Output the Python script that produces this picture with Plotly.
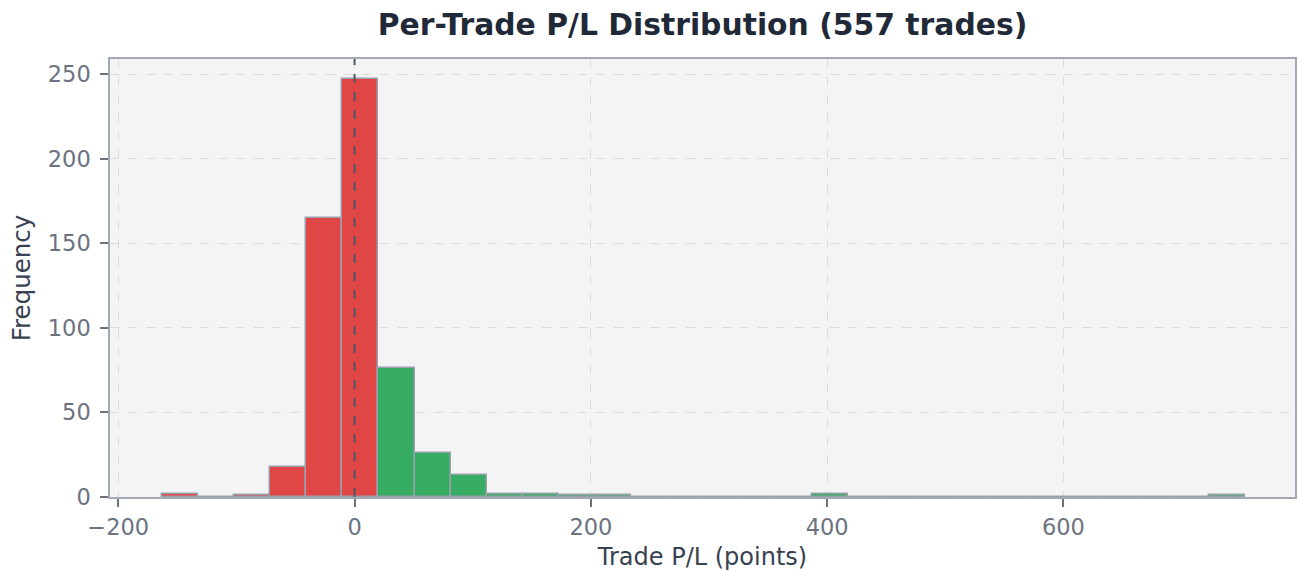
import plotly.graph_objects as go

# Histogram data (30 equal-width bins between min and max trade P/L)
pl_min = -163.2
pl_max = 753.7
n_bins = 30
counts = [2, 0, 1, 18, 165, 247, 76, 26, 13, 2,
          2, 1, 1, 0, 0, 0, 0, 0, 2, 0,
          0, 0, 0, 0, 0, 0, 0, 0, 0, 1]
n_trades = 557
x_ticks = [-200, 0, 200, 400, 600]
x_tick_labels = ["\u2212200", "0", "200", "400", "600"]
y_ticks = [0, 50, 100, 150, 200, 250]

bin_w = (pl_max - pl_min) / n_bins
lefts = [pl_min + i * bin_w for i in range(n_bins)]
centers = [l + bin_w / 2 for l in lefts]
colors = ["rgb(224,70,70)" if l < 0 else "rgb(54,173,98)" for l in lefts]

font_family = "DejaVu Sans"

fig = go.Figure()
fig.add_trace(go.Bar(
    x=centers, y=counts, width=bin_w,
    marker=dict(color=colors, line=dict(color="#9aa0ac", width=1.5)),
    hoverinfo="x+y", showlegend=False,
))

fig.add_vline(x=0, line=dict(color="#4f5560", width=2, dash="dash"))

fig.update_layout(
    width=1299, height=571,
    margin=dict(l=110, r=2, t=59, b=74),
    paper_bgcolor="white",
    plot_bgcolor="#f4f4f4",
    bargap=0,
    font=dict(family=font_family),
    title=dict(
        text=f"Per-Trade P/L Distribution ({n_trades} trades)",
        font=dict(family=font_family, size=29.8, color="#1f2937", weight="bold"),
        x=0.5, xref="paper", xanchor="center",
        y=1 - 25 / 571, yref="container", yanchor="middle",
    ),
    xaxis=dict(
        range=[-207, 796],
        tickmode="array", tickvals=x_ticks, ticktext=x_tick_labels,
        ticks="outside", ticklen=8, tickwidth=1.5, tickcolor="#6b7280",
        tickfont=dict(size=22.5, color="#6b7280", family=font_family),
        ticklabelstandoff=1,
        showgrid=True, gridcolor="#dcdcdc", griddash="dash", gridwidth=1,
        showline=True, linecolor="#a3a8b4", linewidth=1.5, mirror=True,
        zeroline=False,
        title=dict(text="Trade P/L (points)", standoff=12,
                   font=dict(size=24, color="#374151", family=font_family)),
    ),
    yaxis=dict(
        range=[0, 258.9],
        tickmode="array", tickvals=y_ticks,
        ticks="outside", ticklen=8, tickwidth=1.5, tickcolor="#6b7280",
        tickfont=dict(size=22.5, color="#6b7280", family=font_family),
        ticklabelstandoff=5,
        showgrid=True, gridcolor="#dcdcdc", griddash="dash", gridwidth=1,
        showline=True, linecolor="#a3a8b4", linewidth=1.5, mirror=True,
        zeroline=False,
        title=dict(text="Frequency", standoff=10,
                   font=dict(size=24.5, color="#374151", family=font_family)),
    ),
)

post = ("document.body.style.margin='0';document.body.style.padding='0';"
        "document.body.style.overflow='hidden';"
        "document.documentElement.style.overflow='hidden';")
fig.write_html("out.html", post_script=post, config={"displayModeBar": False})
